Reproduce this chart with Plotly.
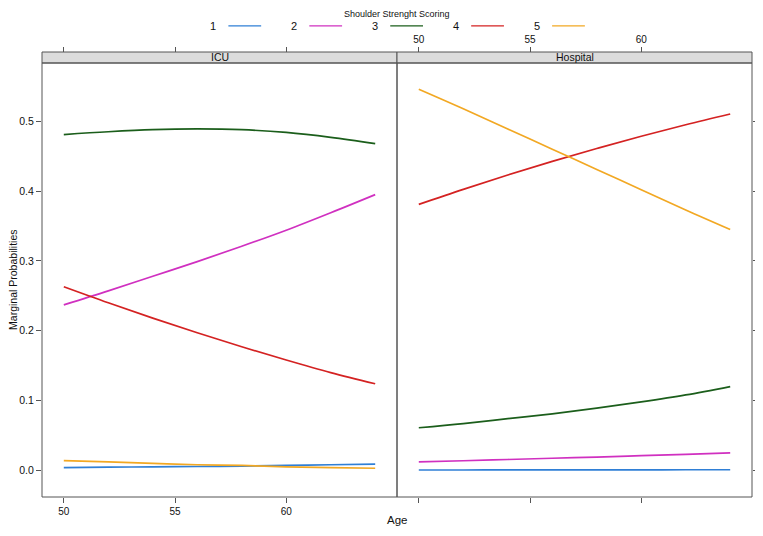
import plotly.graph_objects as go

# Age grid (years) and score levels
ages = [50, 52, 54, 56, 58, 60, 62, 64]
scores = ['1', '2', '3', '4', '5']
panels = ['ICU', 'Hospital']
colors = ['#2f7fd6', '#d030c0', '#1b5e1b', '#d42222', '#f2a823']
y_ticks = [0.0, 0.1, 0.2, 0.3, 0.4, 0.5]
x_ticks = [50, 55, 60]

# marginal probabilities
icu_1 = [0.004, 0.0045, 0.005, 0.0055, 0.006, 0.007, 0.008, 0.009]
icu_2 = [0.237, 0.257, 0.278, 0.299, 0.321, 0.344, 0.369, 0.395]
icu_3 = [0.481, 0.485, 0.488, 0.489, 0.488, 0.484, 0.477, 0.468]
icu_4 = [0.263, 0.240, 0.218, 0.197, 0.177, 0.158, 0.140, 0.124]
icu_5 = [0.014, 0.012, 0.010, 0.008, 0.007, 0.005, 0.004, 0.003]

# marginal probabilities
hosp_1 = [0.0005, 0.0005, 0.0006, 0.0006, 0.0007, 0.0007, 0.0008, 0.0008]
hosp_2 = [0.012, 0.0137, 0.0155, 0.0173, 0.019, 0.021, 0.023, 0.025]
hosp_3 = [0.061, 0.067, 0.074, 0.081, 0.089, 0.098, 0.108, 0.120]
hosp_4 = [0.381, 0.4025, 0.423, 0.4425, 0.461, 0.4785, 0.495, 0.5105]
hosp_5 = [0.546, 0.518, 0.489, 0.460, 0.431, 0.402, 0.373, 0.345]

icu = [icu_1, icu_2, icu_3, icu_4, icu_5]
hosp = [hosp_1, hosp_2, hosp_3, hosp_4, hosp_5]

# page body adds an 8px offset, so the figure is shrunk by it
OFF = 8
W, H = 763, 536
ML, MR, MT, MB = 42.3, 5.7, 51.7, 39.3
PW, PH = W - ML - MR, H - MT - MB
strip_h = 11
ytop = (PH - strip_h) / PH
FONT = 'Liberation Sans, Arial, sans-serif'
EDGE = '#555555'


def px(x):
    return (x - ML) / PW


def py(y):
    return (H - MB - y) / PH


fig = go.Figure()
for i in range(5):
    fig.add_trace(go.Scatter(x=ages, y=icu[i], mode='lines', xaxis='x', yaxis='y',
                             line=dict(color=colors[i], width=1.7, shape='spline', smoothing=1),
                             showlegend=False, hoverinfo='skip'))
    fig.add_trace(go.Scatter(x=ages, y=hosp[i], mode='lines', xaxis='x2', yaxis='y2',
                             line=dict(color=colors[i], width=1.7, shape='spline', smoothing=1),
                             showlegend=False, hoverinfo='skip'))
# empty traces so the top axes get drawn
fig.add_trace(go.Scatter(x=[], y=[], xaxis='x3', yaxis='y', showlegend=False))
fig.add_trace(go.Scatter(x=[], y=[], xaxis='x4', yaxis='y2', showlegend=False))

xr = [49.02, 64.98]
yr = [-0.0382, 0.5835]
common_x = dict(range=xr, tickvals=x_ticks, ticks='outside', ticklen=5, tickcolor=EDGE,
                showline=False, showgrid=False, zeroline=False,
                tickfont=dict(size=10, color='#111', family=FONT))
common_y = dict(range=yr, domain=[0, ytop], tickvals=y_ticks, tickformat='.1f',
                ticks='outside', ticklen=5, tickcolor=EDGE, showline=False,
                showgrid=False, zeroline=False,
                tickfont=dict(size=10.5, color='#111', family=FONT))

shapes = []
annotations = []
for k, name in enumerate(panels):
    x0, x1 = k * 0.5, (k + 1) * 0.5
    shapes.append(dict(type='rect', xref='paper', yref='paper', x0=x0, x1=x1, y0=ytop, y1=1,
                       fillcolor='#dcdcdc', line=dict(color=EDGE, width=1), layer='below'))
    shapes.append(dict(type='rect', xref='paper', yref='paper', x0=x0, x1=x1, y0=0, y1=ytop,
                       fillcolor='rgba(0,0,0,0)', line=dict(color=EDGE, width=1)))
    annotations.append(dict(text=name, xref='paper', yref='paper', x=(x0 + x1) / 2,
                            y=(ytop + 1) / 2, showarrow=False, xanchor='center', yanchor='middle',
                            font=dict(size=10.5, color='#111', family=FONT)))

# legend drawn as a key row: label then line sample
annotations.append(dict(text='Shoulder Strenght Scoring', xref='paper', yref='paper',
                        x=px(400), y=py(OFF), showarrow=False, xanchor='center', yanchor='top',
                        borderpad=0, font=dict(size=9, color='#111', family=FONT)))
key_y = 25.5
for i, s in enumerate(scores):
    off = 81.5 * i
    annotations.append(dict(text=s, xref='paper', yref='paper', x=px(215 + off), y=py(key_y),
                            showarrow=False, xanchor='center', yanchor='middle', borderpad=0,
                            font=dict(size=11, color='#111', family=FONT)))
    shapes.append(dict(type='line', xref='paper', yref='paper', x0=px(230 + off), x1=px(263 + off),
                       y0=py(key_y), y1=py(key_y), line=dict(color=colors[i], width=1.3)))

annotations.append(dict(text='Age', xref='paper', yref='paper', x=0.5, y=py(520),
                        showarrow=False, xanchor='center', yanchor='middle',
                        font=dict(size=11.5, color='#111', family=FONT)))
annotations.append(dict(text='Marginal Probabilities', xref='paper', yref='paper', x=px(13),
                        y=py((62.7 + 496.7) / 2), showarrow=False, textangle=-90,
                        xanchor='center', yanchor='middle', borderpad=0,
                        font=dict(size=10.5, color='#111', family=FONT)))

fig.update_layout(
    width=W - OFF, height=H - OFF,
    margin=dict(l=ML - OFF, r=MR, t=MT - OFF, b=MB, pad=0),
    plot_bgcolor='white', paper_bgcolor='white',
    font=dict(family=FONT),
    xaxis=dict(domain=[0, 0.5], anchor='y', **common_x),
    xaxis2=dict(domain=[0.5, 1], anchor='y2', showticklabels=False, **common_x),
    xaxis3=dict(overlaying='x', side='top', anchor='free', position=1,
                showticklabels=False, **common_x),
    xaxis4=dict(overlaying='x2', side='top', anchor='free', position=1, **common_x),
    yaxis=dict(anchor='x', **common_y),
    yaxis2=dict(anchor='x2', matches='y', side='right', showticklabels=False, **common_y),
    shapes=shapes,
    annotations=annotations,
    showlegend=False,
)

fig.write_html('out.html')
